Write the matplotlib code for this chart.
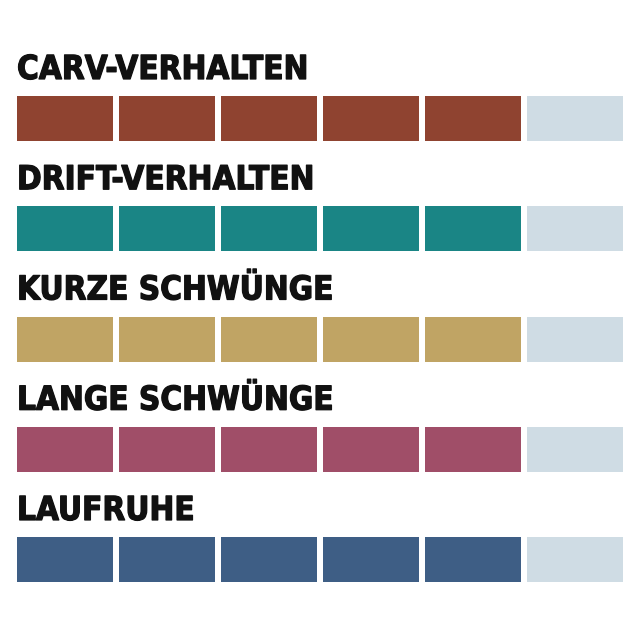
import matplotlib
matplotlib.use("Agg")
import matplotlib.pyplot as plt
import matplotlib.patheffects as pe

categories = ["CARV-VERHALTEN", "DRIFT-VERHALTEN", "KURZE SCHWÜNGE", "LANGE SCHWÜNGE", "LAUFRUHE"]
scores = [5, 5, 5, 5, 5]
max_score = 6
colors = ["#8F4330", "#1A8585", "#C0A464", "#A04E68", "#3E5E85"]
empty_color = "#CFDCE4"

fig = plt.figure(figsize=(6.4, 6.4), dpi=100)
fig.patch.set_facecolor("white")

# pixel geometry
left_px, right_px = 17, 623
step_px = 102.0
block_w = 96.0 / step_px
row_step_px = 110.25
row0_top_px = 96.0
bar_h = 45.0 / row_step_px

ax = fig.add_axes([left_px / 640, 0, (right_px - left_px) / 640, 1])
ax.set_xlim(0, (right_px - left_px) / step_px)
ymin = -row0_top_px / row_step_px
ymax = (640 - row0_top_px) / row_step_px
ax.set_ylim(ymax, ymin)
ax.axis("off")

for i, (cat, sc, col) in enumerate(zip(categories, scores, colors)):
    for j in range(max_score):
        c = col if j < sc else empty_color
        ax.bar(j, bar_h, width=block_w, bottom=i, align="edge", color=c,
               edgecolor="none")
    ax.text(0, i - 17 / row_step_px, cat, ha="left", va="baseline",
            fontsize=23.8, fontweight="bold", fontstretch="condensed",
            family=["DejaVu Sans"], color="#111111",
            path_effects=[pe.withStroke(linewidth=0.9, foreground="#111111")])

fig.savefig("out.png", dpi=100, facecolor="white")
